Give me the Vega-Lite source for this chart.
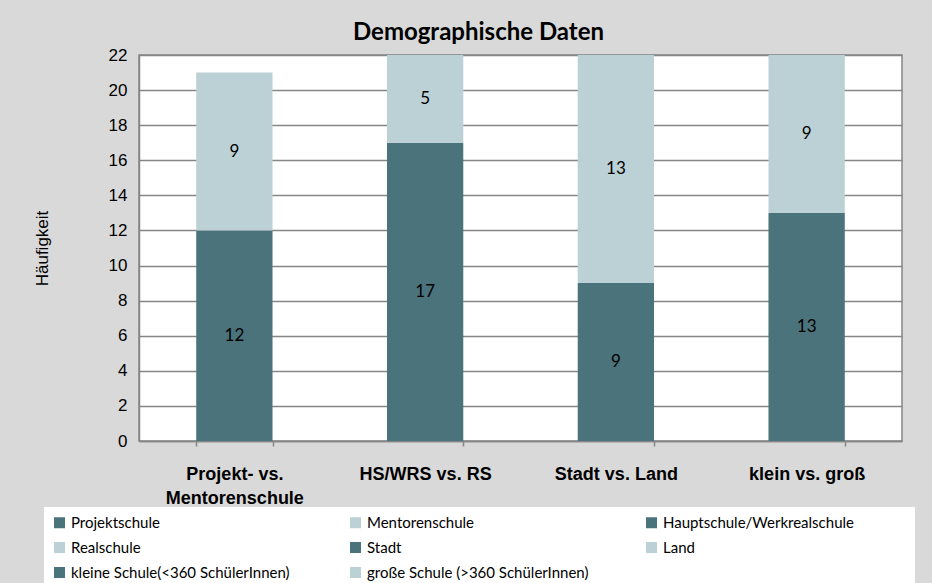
{
  "$schema": "https://vega.github.io/schema/vega-lite/v6.json",
  "autosize": {"type": "none"},
  "width": 763,
  "height": 386,
  "padding": {"left": 139, "top": 55, "right": 30, "bottom": 142},
  "background": "#d9d9d9",
  "title": {
    "text": "Demographische Daten",
    "anchor": "middle",
    "dx": -42,
    "offset": 1,
    "font": "Lato",
    "fontSize": 24,
    "fontWeight": "bold",
    "color": "#000000"
  },
  "data": {
    "values": [
      {"gruppe": "Projekt- vs. Mentorenschule", "kategorie": "Projektschule", "anzahl": 12, "reihe": 1},
      {"gruppe": "Projekt- vs. Mentorenschule", "kategorie": "Mentorenschule", "anzahl": 9, "reihe": 2},
      {"gruppe": "HS/WRS vs. RS", "kategorie": "Hauptschule/Werkrealschule", "anzahl": 17, "reihe": 1},
      {"gruppe": "HS/WRS vs. RS", "kategorie": "Realschule", "anzahl": 5, "reihe": 2},
      {"gruppe": "Stadt vs. Land", "kategorie": "Stadt", "anzahl": 9, "reihe": 1},
      {"gruppe": "Stadt vs. Land", "kategorie": "Land", "anzahl": 13, "reihe": 2},
      {"gruppe": "klein vs. groß", "kategorie": "kleine Schule(<360  SchülerInnen)", "anzahl": 13, "reihe": 1},
      {"gruppe": "klein vs. groß", "kategorie": "große Schule  (>360 SchülerInnen)", "anzahl": 9, "reihe": 2}
    ]
  },
  "config": {
    "view": {"stroke": "#868686", "strokeWidth": 1.5, "fill": "#ffffff"}
  },
  "encoding": {
    "x": {
      "field": "gruppe",
      "type": "nominal",
      "sort": ["Projekt- vs. Mentorenschule", "HS/WRS vs. RS", "Stadt vs. Land", "klein vs. groß"],
      "scale": {"paddingInner": 0.6, "paddingOuter": 0.3},
      "axis": {
        "title": null,
        "labelAngle": 0,
        "labelFont": "Liberation Sans",
        "labelFontSize": 18,
        "labelFontWeight": "bold",
        "labelColor": "#000000",
        "labelPadding": 19,
        "labelLineHeight": 24,
        "labelLimit": 250,
        "labelExpr": "datum.label == 'Projekt- vs. Mentorenschule' ? ['Projekt- vs.', 'Mentorenschule'] : datum.label",
        "tickBand": "extent",
        "tickColor": "#868686",
        "tickWidth": 1.5,
        "tickSize": 5,
        "domainColor": "#868686",
        "domainWidth": 1.5
      }
    },
    "y": {
      "field": "anzahl",
      "type": "quantitative",
      "stack": "zero",
      "scale": {"domain": [0, 22], "nice": false},
      "axis": {
        "title": "Häufigkeit",
        "titleFont": "Liberation Sans",
        "titleFontSize": 17,
        "titleFontWeight": "normal",
        "titleColor": "#000000",
        "titlePadding": 57,
        "values": [0, 2, 4, 6, 8, 10, 12, 14, 16, 18, 20, 22],
        "labelFont": "Liberation Sans",
        "labelFontSize": 17,
        "labelColor": "#000000",
        "labelPadding": 12,
        "ticks": false,
        "grid": true,
        "gridColor": "#868686",
        "gridWidth": 1.3,
        "domainColor": "#868686",
        "domainWidth": 1.5
      }
    },
    "order": {"field": "reihe", "type": "quantitative", "sort": "ascending"}
  },
  "layer": [
    {
      "mark": {"type": "bar"},
      "encoding": {
        "color": {
          "field": "kategorie",
          "type": "nominal",
          "scale": {
            "domain": ["Projektschule", "Realschule", "kleine Schule(<360  SchülerInnen)", "Mentorenschule", "Stadt", "große Schule  (>360 SchülerInnen)", "Hauptschule/Werkrealschule", "Land"],
            "range": ["#4b737c", "#bbd1d6", "#4b737c", "#bbd1d6", "#4b737c", "#bbd1d6", "#4b737c", "#bbd1d6"]
          },
          "legend": {
            "title": " ",
            "titleOrient": "right",
            "titlePadding": 53,
            "orient": "none",
            "legendX": -95,
            "legendY": 452,
            "columns": 3,
            "gridAlign": "all",
            "columnPadding": 51,
            "rowPadding": 9,
            "padding": 8,
            "fillColor": "#ffffff",
            "symbolType": "square",
            "symbolSize": 121,
            "symbolStrokeWidth": 0,
            "labelFont": "Lato",
            "labelFontSize": 15,
            "labelColor": "#000000",
            "labelLimit": 400,
            "labelOffset": 4
          }
        }
      }
    },
    {
      "mark": {"type": "text", "font": "Lato", "fontSize": 17, "color": "#000000", "baseline": "middle"},
      "encoding": {
        "y": {"field": "anzahl", "type": "quantitative", "stack": "zero", "bandPosition": 0.5},
        "text": {"field": "anzahl", "type": "quantitative"}
      }
    }
  ]
}
